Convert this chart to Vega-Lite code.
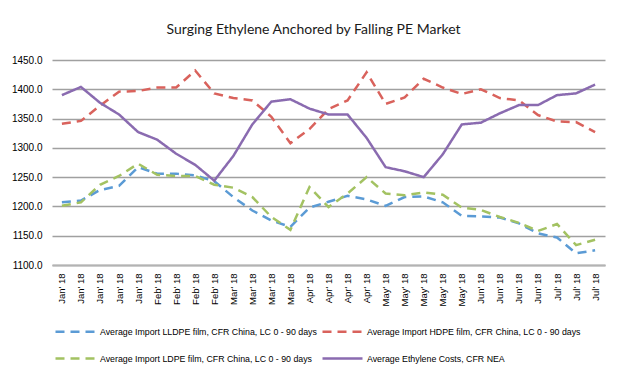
{
  "$schema": "https://vega.github.io/schema/vega-lite/v6.json",
  "width": 553,
  "height": 205,
  "autosize": {"type": "none"},
  "padding": {"left": 52, "top": 60, "right": 23, "bottom": 115},
  "background": "white",
  "title": {
    "text": "Surging Ethylene Anchored by Falling PE Market",
    "font": "Lato",
    "fontSize": 14,
    "fontWeight": "normal",
    "color": "#1a1a1a",
    "anchor": "middle",
    "offset": 18,
    "dx": -15
  },
  "data": {
    "values": [
      {"period": "Jan' 18|0", "lldpe": 1207, "hdpe": 1341, "ldpe": 1201, "eth": 1390},
      {"period": "Jan' 18|1", "lldpe": 1210, "hdpe": 1346, "ldpe": 1207, "eth": 1404},
      {"period": "Jan' 18|2", "lldpe": 1228, "hdpe": 1372, "ldpe": 1237, "eth": 1377},
      {"period": "Jan' 18|3", "lldpe": 1235, "hdpe": 1396, "ldpe": 1252, "eth": 1357},
      {"period": "Jan' 18|4", "lldpe": 1267, "hdpe": 1397, "ldpe": 1273, "eth": 1327},
      {"period": "Feb' 18|5", "lldpe": 1256, "hdpe": 1403, "ldpe": 1254, "eth": 1314},
      {"period": "Feb' 18|6", "lldpe": 1256, "hdpe": 1403, "ldpe": 1252, "eth": 1290},
      {"period": "Feb' 18|7", "lldpe": 1253, "hdpe": 1432, "ldpe": 1252, "eth": 1271},
      {"period": "Feb' 18|8", "lldpe": 1243, "hdpe": 1393, "ldpe": 1237, "eth": 1244},
      {"period": "Mar' 18|9", "lldpe": 1216, "hdpe": 1385, "ldpe": 1232, "eth": 1286},
      {"period": "Mar' 18|10", "lldpe": 1193, "hdpe": 1381, "ldpe": 1216, "eth": 1340},
      {"period": "Mar' 18|11", "lldpe": 1176, "hdpe": 1353, "ldpe": 1182, "eth": 1379},
      {"period": "Mar' 18|12", "lldpe": 1165, "hdpe": 1308, "ldpe": 1160, "eth": 1383},
      {"period": "Apr' 18|13", "lldpe": 1198, "hdpe": 1332, "ldpe": 1233, "eth": 1367},
      {"period": "Apr' 18|14", "lldpe": 1208, "hdpe": 1366, "ldpe": 1199, "eth": 1357},
      {"period": "Apr' 18|15", "lldpe": 1218, "hdpe": 1381, "ldpe": 1222, "eth": 1357},
      {"period": "Apr' 18|16", "lldpe": 1212, "hdpe": 1429, "ldpe": 1250, "eth": 1317},
      {"period": "May' 18|17", "lldpe": 1201, "hdpe": 1375, "ldpe": 1222, "eth": 1267},
      {"period": "May' 18|18", "lldpe": 1216, "hdpe": 1386, "ldpe": 1219, "eth": 1260},
      {"period": "May' 18|19", "lldpe": 1217, "hdpe": 1418, "ldpe": 1224, "eth": 1250},
      {"period": "May' 18|20", "lldpe": 1207, "hdpe": 1403, "ldpe": 1220, "eth": 1289},
      {"period": "May' 18|21", "lldpe": 1184, "hdpe": 1392, "ldpe": 1198, "eth": 1340},
      {"period": "Jun' 18|22", "lldpe": 1183, "hdpe": 1400, "ldpe": 1194, "eth": 1343},
      {"period": "Jun' 18|23", "lldpe": 1181, "hdpe": 1385, "ldpe": 1182, "eth": 1359},
      {"period": "Jun' 18|24", "lldpe": 1171, "hdpe": 1381, "ldpe": 1172, "eth": 1373},
      {"period": "Jun' 18|25", "lldpe": 1154, "hdpe": 1356, "ldpe": 1158, "eth": 1373},
      {"period": "Jul' 18|26", "lldpe": 1147, "hdpe": 1345, "ldpe": 1170, "eth": 1390},
      {"period": "Jul' 18|27", "lldpe": 1120, "hdpe": 1344, "ldpe": 1134, "eth": 1393},
      {"period": "Jul' 18|28", "lldpe": 1125, "hdpe": 1327, "ldpe": 1143, "eth": 1408}
    ]
  },
  "transform": [{"fold": ["lldpe", "hdpe", "ldpe", "eth"], "as": ["series", "value"]}],
  "mark": {"type": "line", "strokeWidth": 2.5},
  "encoding": {
    "x": {
      "field": "period",
      "type": "ordinal",
      "sort": null,
      "scale": {"type": "point", "padding": 0.52},
      "axis": {
        "title": null,
        "labelAngle": -90,
        "labelExpr": "split(datum.label, '|')[0]",
        "labelFont": "Liberation Sans",
        "labelFontSize": 9.5,
        "labelColor": "#000000",
        "labelPadding": 8,
        "ticks": false,
        "grid": false,
        "domainColor": "#b3b3b3",
        "domainWidth": 2
      }
    },
    "y": {
      "field": "value",
      "type": "quantitative",
      "scale": {"domain": [1100, 1450], "zero": false, "nice": false},
      "axis": {
        "title": null,
        "values": [1100, 1150, 1200, 1250, 1300, 1350, 1400, 1450],
        "format": ".1f",
        "labelFont": "Liberation Sans",
        "labelFontSize": 10,
        "labelColor": "#000000",
        "labelPadding": 10,
        "ticks": false,
        "domain": false,
        "grid": true,
        "gridColor": "#a0a0a0",
        "gridWidth": 1.5
      }
    },
    "color": {
      "field": "series",
      "type": "nominal",
      "scale": {
        "domain": ["lldpe", "hdpe", "ldpe", "eth"],
        "range": ["#5B9BD5", "#D9625C", "#A3C262", "#8A6BB0"]
      },
      "legend": {
        "orient": "none",
        "legendX": 2,
        "legendY": 250,
        "direction": "horizontal",
        "columns": 2,
        "gridAlign": "each",
        "title": null,
        "padding": 0,
        "symbolType": "stroke",
        "symbolSize": 1600,
        "symbolStrokeWidth": 2.5,
        "labelFont": "Liberation Sans",
        "labelFontSize": 8.8,
        "labelColor": "#000000",
        "labelOffset": 3,
        "labelLimit": 400,
        "columnPadding": 0,
        "rowPadding": -17,
        "labelExpr": "datum.label == 'lldpe' ? 'Average Import LLDPE film, CFR China, LC 0 - 90 days' : datum.label == 'hdpe' ? 'Average Import HDPE film, CFR China, LC 0 - 90 days' : datum.label == 'ldpe' ? 'Average Import LDPE film, CFR China, LC 0 - 90 days' : 'Average Ethylene Costs, CFR NEA'"
      }
    },
    "strokeDash": {
      "field": "series",
      "type": "nominal",
      "scale": {
        "domain": ["lldpe", "hdpe", "ldpe", "eth"],
        "range": [[9, 6], [9, 6], [9, 6], [1, 0]]
      },
      "legend": null
    }
  },
  "config": {
    "view": {"stroke": null}
  }
}
